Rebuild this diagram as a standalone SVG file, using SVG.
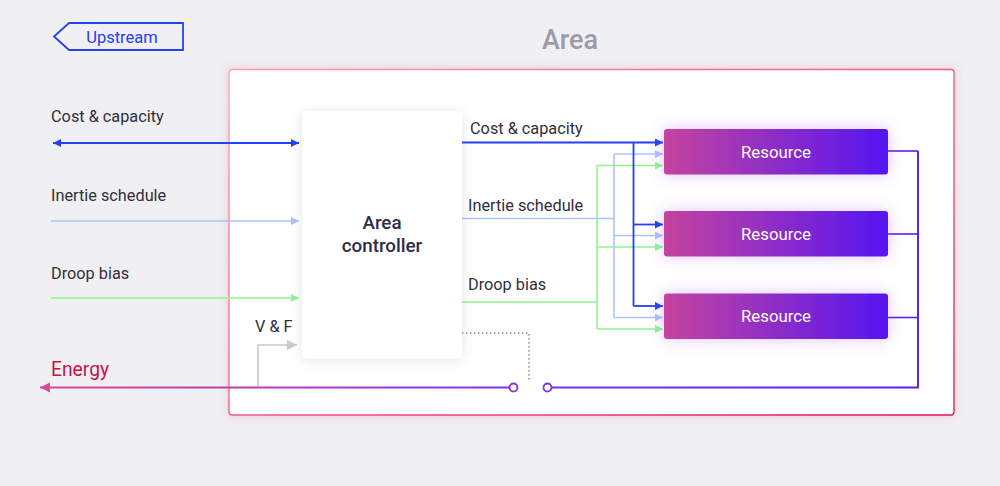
<svg xmlns="http://www.w3.org/2000/svg" width="1000" height="486" viewBox="0 0 1000 486">
<defs>
<style>
text{font-family:Roboto,"Liberation Sans",Arial,sans-serif}
.lbl{font-size:16.3px;fill:#2f2f3a}
.res{font-size:16.8px;fill:#ffffff;text-anchor:middle}
.ln{fill:none;stroke-width:1.6}
.blue{stroke:#2141f3;stroke-width:1.8}
.lblue{stroke:#a9c5ff}
.green{stroke:#8ff58f}
.gray{stroke:#c9c9cc}
</style>
<linearGradient id="resGrad" x1="0" y1="0" x2="1" y2="0">
<stop offset="0" stop-color="#c4449f"/>
<stop offset="1" stop-color="#5515f1"/>
</linearGradient>
<linearGradient id="areaStroke" x1="0" y1="0" x2="1" y2="1">
<stop offset="0" stop-color="#f6a3b8"/>
<stop offset="0.5" stop-color="#f25a84"/>
<stop offset="1" stop-color="#e2124e"/>
</linearGradient>
<linearGradient id="energyGrad" gradientUnits="userSpaceOnUse" x1="40" y1="0" x2="513" y2="0">
<stop offset="0" stop-color="#d84a9e"/>
<stop offset="1" stop-color="#8a2fdc"/>
</linearGradient>
<linearGradient id="energyGrad2" gradientUnits="userSpaceOnUse" x1="551" y1="0" x2="918" y2="0">
<stop offset="0" stop-color="#8030e0"/>
<stop offset="1" stop-color="#5a1ff5"/>
</linearGradient>
<filter id="areaShadow" x="-10%" y="-10%" width="120%" height="120%">
<feDropShadow dx="0" dy="0" stdDeviation="4" flood-color="#e8537c" flood-opacity="0.25"/>
</filter>
<filter id="ctrlShadow" x="-20%" y="-20%" width="140%" height="140%">
<feDropShadow dx="0" dy="2" stdDeviation="6" flood-color="#000000" flood-opacity="0.10"/>
</filter>
<filter id="resShadow" x="-30%" y="-80%" width="160%" height="260%">
<feDropShadow dx="0" dy="0" stdDeviation="8" flood-color="#a35ae8" flood-opacity="0.35"/>
</filter>
<marker id="aBlue" markerUnits="userSpaceOnUse" markerWidth="10" markerHeight="10" refX="8" refY="4" orient="auto-start-reverse"><path d="M0,0 L8,4 L0,8 z" fill="#2141f3"/></marker>
<marker id="aLBlue" markerUnits="userSpaceOnUse" markerWidth="10" markerHeight="10" refX="8" refY="4" orient="auto"><path d="M0,0 L8,4 L0,8 z" fill="#a9c5ff"/></marker>
<marker id="aGreen" markerUnits="userSpaceOnUse" markerWidth="10" markerHeight="10" refX="8" refY="4" orient="auto"><path d="M0,0 L8,4 L0,8 z" fill="#8ff58f"/></marker>
<marker id="aGray" markerUnits="userSpaceOnUse" markerWidth="12" markerHeight="12" refX="10" refY="5" orient="auto"><path d="M0,0 L10,5 L0,10 z" fill="#c9c9cc"/></marker>
<marker id="aPink" markerUnits="userSpaceOnUse" markerWidth="12" markerHeight="12" refX="10" refY="5" orient="auto-start-reverse"><path d="M0,0 L10,5 L0,10 z" fill="#d84a9e"/></marker>
</defs>
<rect x="0" y="0" width="1000" height="486" fill="#f0eff2"/>

<g id="upstream">
<path d="M69,23 L183,23 L183,50 L69,50 L54,36.5 Z" fill="none" stroke="#2541f2" stroke-width="1.8"/>
<text x="122" y="42.5" font-size="16.5" fill="#2541f2" text-anchor="middle">Upstream</text>
</g>

<g id="area">
<text x="570" y="49" font-size="27" font-weight="500" fill="#9c9ba9" text-anchor="middle">Area</text>
<rect x="229" y="69.5" width="725" height="345.5" rx="3" fill="#ffffff" stroke="url(#areaStroke)" stroke-width="1.3" filter="url(#areaShadow)"/>
</g>

<g id="connectors">
<line class="ln blue" x1="53" y1="143" x2="299" y2="143" marker-start="url(#aBlue)" marker-end="url(#aBlue)"/>
<line class="ln lblue" x1="51" y1="221" x2="299" y2="221" marker-end="url(#aLBlue)"/>
<line class="ln green" x1="51" y1="298" x2="299" y2="298" marker-end="url(#aGreen)"/>
<path class="ln gray" d="M258,387 V345 H297" marker-end="url(#aGray)"/>
<line x1="40" y1="387.5" x2="509" y2="387.5" stroke="url(#energyGrad)" stroke-width="1.8" marker-start="url(#aPink)"/>
<path d="M552,387.5 H918 V151" fill="none" stroke="url(#energyGrad2)" stroke-width="1.8"/>
<line x1="918" y1="151" x2="918" y2="387.5" stroke="#5a1ff5" stroke-width="1.8"/>
<line x1="888" y1="151" x2="918" y2="151" stroke="#5a1ff5" stroke-width="1.6"/>
<line x1="888" y1="234" x2="918" y2="234" stroke="#5a1ff5" stroke-width="1.6"/>
<line x1="888" y1="317.5" x2="918" y2="317.5" stroke="#5a1ff5" stroke-width="1.6"/>
<circle cx="513.5" cy="387.5" r="4" fill="#ffffff" stroke="#8a2fdc" stroke-width="1.8"/>
<circle cx="547.5" cy="387.5" r="4" fill="#ffffff" stroke="#8030e0" stroke-width="1.8"/>
<path d="M462,333 H529 V380" fill="none" stroke="#555560" stroke-width="1" stroke-dasharray="1.5 2.5"/>
<line class="ln green" x1="462" y1="302" x2="597" y2="302"/>
<line class="ln green" x1="597" y1="165.5" x2="597" y2="329"/>
<line class="ln green" x1="597" y1="165.5" x2="663" y2="165.5" marker-end="url(#aGreen)"/>
<line class="ln green" x1="597" y1="247" x2="663" y2="247" marker-end="url(#aGreen)"/>
<line class="ln green" x1="597" y1="329" x2="663" y2="329" marker-end="url(#aGreen)"/>
<line class="ln lblue" x1="462" y1="218.5" x2="614" y2="218.5"/>
<line class="ln lblue" x1="614" y1="154" x2="614" y2="317.5"/>
<line class="ln lblue" x1="614" y1="154" x2="663" y2="154" marker-end="url(#aLBlue)"/>
<line class="ln lblue" x1="614" y1="235.5" x2="663" y2="235.5" marker-end="url(#aLBlue)"/>
<line class="ln lblue" x1="614" y1="317.5" x2="663" y2="317.5" marker-end="url(#aLBlue)"/>
<line class="ln blue" x1="462" y1="142.5" x2="663" y2="142.5" marker-end="url(#aBlue)"/>
<line class="ln blue" x1="633.5" y1="142.5" x2="633.5" y2="306"/>
<line class="ln blue" x1="633.5" y1="224.5" x2="663" y2="224.5" marker-end="url(#aBlue)"/>
<line class="ln blue" x1="633.5" y1="306" x2="663" y2="306" marker-end="url(#aBlue)"/>
</g>

<g id="labels">
<text class="lbl" x="51" y="122">Cost &amp; capacity</text>
<text class="lbl" x="51" y="201">Inertie schedule</text>
<text class="lbl" x="51" y="279">Droop bias</text>
<text class="lbl" x="255" y="332">V &amp; F</text>
<text x="51" y="376" font-size="19.3" fill="#c3134c">Energy</text>
<text class="lbl" x="470" y="134">Cost &amp; capacity</text>
<text class="lbl" x="468" y="211">Inertie schedule</text>
<text class="lbl" x="468" y="290">Droop bias</text>
</g>

<g id="area-controller">
<rect x="302" y="111" width="160" height="247.5" rx="3" fill="#ffffff" filter="url(#ctrlShadow)"/>
<text x="382" y="229" font-size="18.8" font-weight="500" fill="#2e2c46" text-anchor="middle">Area</text>
<text x="382" y="252" font-size="18.8" font-weight="500" fill="#2e2c46" text-anchor="middle">controller</text>
</g>

<g id="resource-1">
<rect x="664" y="129" width="224" height="45.5" rx="3" fill="url(#resGrad)" filter="url(#resShadow)"/>
<text class="res" x="776" y="157.5">Resource</text>
</g>
<g id="resource-2">
<rect x="664" y="211" width="224" height="45.5" rx="3" fill="url(#resGrad)" filter="url(#resShadow)"/>
<text class="res" x="776" y="239.5">Resource</text>
</g>
<g id="resource-3">
<rect x="664" y="293.5" width="224" height="45.5" rx="3" fill="url(#resGrad)" filter="url(#resShadow)"/>
<text class="res" x="776" y="322">Resource</text>
</g>
</svg>
